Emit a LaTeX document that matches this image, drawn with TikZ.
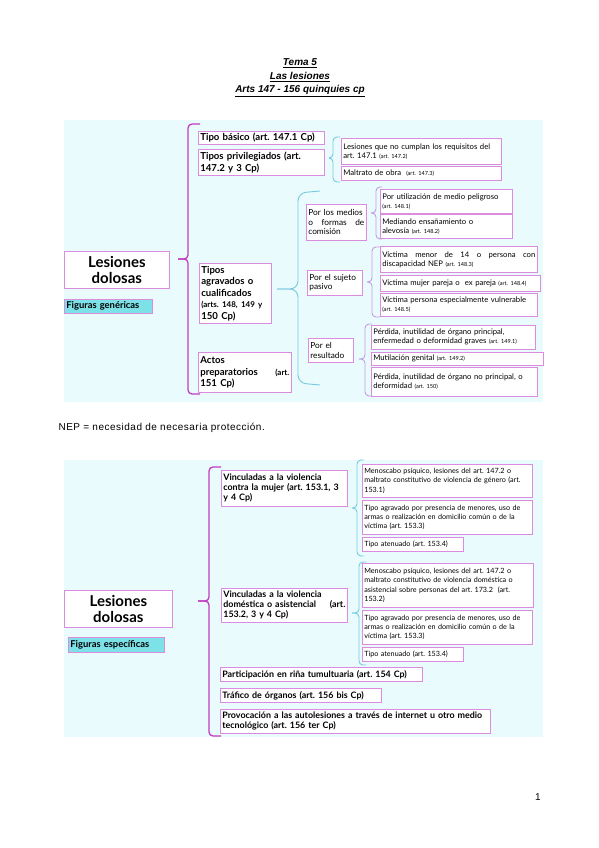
\documentclass[tikz,border=0pt]{standalone}
\usepackage{fontspec}
\setmainfont{Liberation Sans}
\newfontfamily\gill{Lato}
\definecolor{panel}{RGB}{233,251,253}
\definecolor{boxline}{RGB}{220,140,222}
\definecolor{figfill}{RGB}{125,225,232}
\definecolor{bracemag}{RGB}{192,62,192}
\definecolor{bracecyan}{RGB}{120,200,222}
\definecolor{bracepur}{RGB}{196,156,228}
\newcommand\aref[1]{{\fontsize{5.6}{6}\selectfont #1}}
\frenchspacing

\begin{document}
\begin{tikzpicture}[x=1pt,y=-1pt,
    box/.style={draw=boxline,fill=white,line width=0.7pt,anchor=north west,align=left,inner xsep=2pt,inner ysep=0pt},
    big/.style={box,align=center,font=\gill\bfseries\fontsize{15}{16.5}\selectfont},
    fig/.style={box,fill=figfill,font=\gill\bfseries\fontsize{9.4}{10}\selectfont},
    tb/.style={box,font=\gill\bfseries\fontsize{9.6}{11.5}\selectfont},
    t2/.style={box,font=\gill\fontsize{8.3}{9.5}\selectfont},
    t3/.style={box,font=\gill\fontsize{7.7}{9}\selectfont},
    vb/.style={box,font=\gill\bfseries\fontsize{8.9}{10}\selectfont},
    v2/.style={box,font=\gill\fontsize{7.2}{9.3}\selectfont},
    brm/.style={draw=bracemag,line width=1.3pt,rounded corners=4pt},
    brc/.style={draw=bracecyan,line width=0.9pt,rounded corners=4pt},
    brp/.style={draw=bracepur,line width=0.9pt,rounded corners=4pt}]
    \useasboundingbox (0,0) rectangle (599,848);

    % title
    \node[font=\bfseries\itshape\fontsize{10}{12}\selectfont] (tema) at (300,63) {\underline{Tema 5}};
    \node[font=\bfseries\itshape\fontsize{10}{12}\selectfont] (lesiones) at (300,77) {\underline{Las lesiones}};
    \node[font=\bfseries\itshape\fontsize{10}{12}\selectfont] (arts) at (300,91) {\underline{Arts 147 - 156 quinquies cp}};

    % figuras genericas
    \fill[panel] (64,120) rectangle (543,402);
    \node[big,text width=101pt,minimum height=37pt] (lesA) at (64,251) {Lesiones\\dolosas};
    \node[fig,text width=84pt,minimum height=14pt] (figA) at (64,299) {Figuras genéricas};

    \draw[brm] (200,124) -- (188,124) -- (188,259) -- (178,259);
    \draw[brm] (200,394) -- (188,394) -- (188,259) -- (178,259);
    \node[tb,text width=122pt,minimum height=13pt] (tbasico) at (198,131) {Tipo básico (art. 147.1 Cp)};
    \node[tb,text width=122pt,minimum height=26pt] (tpriv) at (198,149) {Tipos privilegiados (art.\\147.2 y 3 Cp)};
    \node[tb,text width=68pt,minimum height=60pt] (tagrav) at (199,263) {Tipos\\agravados o\\cualificados\\{\fontsize{8}{11.5}\selectfont (arts. 148, 149 y}\\150 Cp)};
    \node[tb,text width=89pt,minimum height=40pt] (tactos) at (198,352) {Actos\\preparatorios\hfill{\fontsize{8}{11.5}\selectfont (art.}\\151 Cp)};

    \draw[brc] (340,137) -- (333,137) -- (333,158) -- (329,158);
    \draw[brc] (340,182) -- (333,182) -- (333,158) -- (329,158);
    \node[t3,text width=156pt,minimum height=26pt] (lnc) at (341,138) {Lesiones que no cumplan los requisitos del\\art. 147.1 \aref{(art. 147.2)}};
    \node[t3,text width=156pt,minimum height=14pt] (mobra) at (341,166) {Maltrato de obra \ \aref{(art. 147.3)}};

    \draw[brc,rounded corners=8pt] (320,191) -- (298,193) -- (298,289) -- (277,289);
    \draw[brc,rounded corners=8pt] (320,385) -- (298,383) -- (298,289) -- (277,289);
    \node[t2,text width=56pt,minimum height=36pt] (medios) at (306,204) {Por los medios\\o\hfill formas\hfill de\\comisión};
    \node[t2,text width=51pt,minimum height=25pt] (sujeto) at (307,270) {Por el sujeto\\pasivo};
    \node[t2,text width=41pt,minimum height=24pt] (result) at (308,338) {Por el\\resultado};

    \draw[brp] (382,187) -- (376,187) -- (376,213) -- (371,213);
    \draw[brp] (382,239) -- (376,239) -- (376,213) -- (371,213);
    \node[t3,text width=128pt,minimum height=24pt] (peligro) at (380,189) {Por utilización de medio peligroso\\\aref{(art. 148.1)}};
    \node[t3,text width=128pt,minimum height=24pt] (ensan) at (380,214) {Mediando ensañamiento o\\alevosía \aref{(art. 148.2)}};

    \draw[brp] (380,247) -- (372,247) -- (372,282) -- (367,282);
    \draw[brp] (380,317) -- (372,317) -- (372,282) -- (367,282);
    \node[t3,text width=153pt,minimum height=26pt] (menor) at (380,246) {Víctima\hfill menor\hfill de\hfill 14\hfill o\hfill persona\hfill con\\discapacidad NEP \aref{(art. 148.3)}};
    \node[t3,text width=156pt,minimum height=16pt] (mujer) at (380,275) {Víctima mujer pareja o~ ex pareja \aref{(art. 148.4)}};
    \node[t3,text width=153pt,minimum height=23pt] (vulner) at (380,293) {Víctima persona especialmente vulnerable\\\aref{(art. 148.5)}};

    \draw[brp] (372,324) -- (365,324) -- (365,359) -- (359,359);
    \draw[brp] (372,396) -- (365,396) -- (365,359) -- (359,359);
    \node[t3,text width=160pt,minimum height=24pt] (perdida) at (371,325) {Pérdida, inutilidad de órgano principal,\\enfermedad o deformidad graves \aref{(art. 149.1)}};
    \node[t3,text width=168pt,minimum height=13pt] (mutil) at (371,352) {Mutilación genital \aref{(art. 149.2)}};
    \node[t3,text width=162pt,minimum height=29pt] (perdnp) at (371,367) {Pérdida, inutilidad de órgano no principal, o\\deformidad \aref{(art. 150)}};

    \node[anchor=west,font=\fontsize{10}{11}\selectfont\addfontfeatures{LetterSpace=5}] (nep) at (55,428) {NEP = necesidad de necesaria protección.};

    % figuras especificas
    \fill[panel] (64,460) rectangle (543,737);
    \node[big,text width=104pt,minimum height=37pt] (lesB) at (64,590) {Lesiones\\dolosas};
    \node[fig,text width=92pt,minimum height=15pt] (figB) at (68,637) {Figuras específicas};

    \draw[brm] (221,467) -- (209,467) -- (209,601) -- (198,601);
    \draw[brm] (221,736) -- (209,736) -- (209,601) -- (198,601);
    \node[vb,text width=122pt,minimum height=36pt] (vmujer) at (221,470) {Vinculadas a la violencia\\contra la mujer (art. 153.1, 3\\y 4 Cp)};
    \node[vb,text width=122pt,minimum height=34pt] (vdom) at (221,588) {Vinculadas a la violencia\\doméstica o asistencial\hfill (art.\\153.2, 3 y 4 Cp)};
    \node[vb,text width=198pt,minimum height=14pt] (rina) at (220,667) {Participación en riña tumultuaria (art. 154 Cp)};
    \node[vb,text width=157pt,minimum height=14pt] (trafico) at (220,688) {Tráfico de órganos (art. 156 bis Cp)};
    \node[vb,text width=266pt,minimum height=24pt] (provoc) at (220,709) {Provocación a las autolesiones a través de internet u otro medio\\tecnológico (art. 156 ter Cp)};

    \draw[brc] (364,460) -- (357,460) -- (357,508) -- (352,508);
    \draw[brc] (364,556) -- (357,556) -- (357,508) -- (352,508);
    \node[v2,text width=166pt,minimum height=33pt] (mA1) at (362,464) {Menoscabo psíquico,\ lesiones del art. 147.2 o\\maltrato constitutivo de violencia de género (art.\\153.1)};
    \node[v2,text width=166pt,minimum height=34pt] (mA2) at (362,500) {Tipo agravado por presencia de menores, uso de\\armas o realización en domicilio común o de la\\víctima (art. 153.3)};
    \node[v2,text width=97pt,minimum height=14pt] (mA3) at (362,537) {Tipo atenuado (art. 153.4)};

    \draw[brc] (366,562) -- (359,562) -- (359,613) -- (352,613);
    \draw[brc] (366,665) -- (359,665) -- (359,613) -- (352,613);
    \node[v2,text width=167pt,minimum height=44pt] (dA1) at (362,563) {Menoscabo psíquico,\ lesiones del art. 147.2 o\\maltrato constitutivo de violencia doméstica o\\asistencial sobre personas del art. 173.2\ \ (art.\\153.2)};
    \node[v2,text width=166pt,minimum height=34pt] (dA2) at (362,610) {Tipo agravado por presencia de menores, uso de\\armas o realización en domicilio común o de la\\víctima (art. 153.3)};
    \node[v2,text width=97pt,minimum height=14pt] (dA3) at (362,647) {Tipo atenuado (art. 153.4)};

    \node[font=\fontsize{10}{12}\selectfont] (pag) at (538,797) {1};
\end{tikzpicture}
\end{document}
